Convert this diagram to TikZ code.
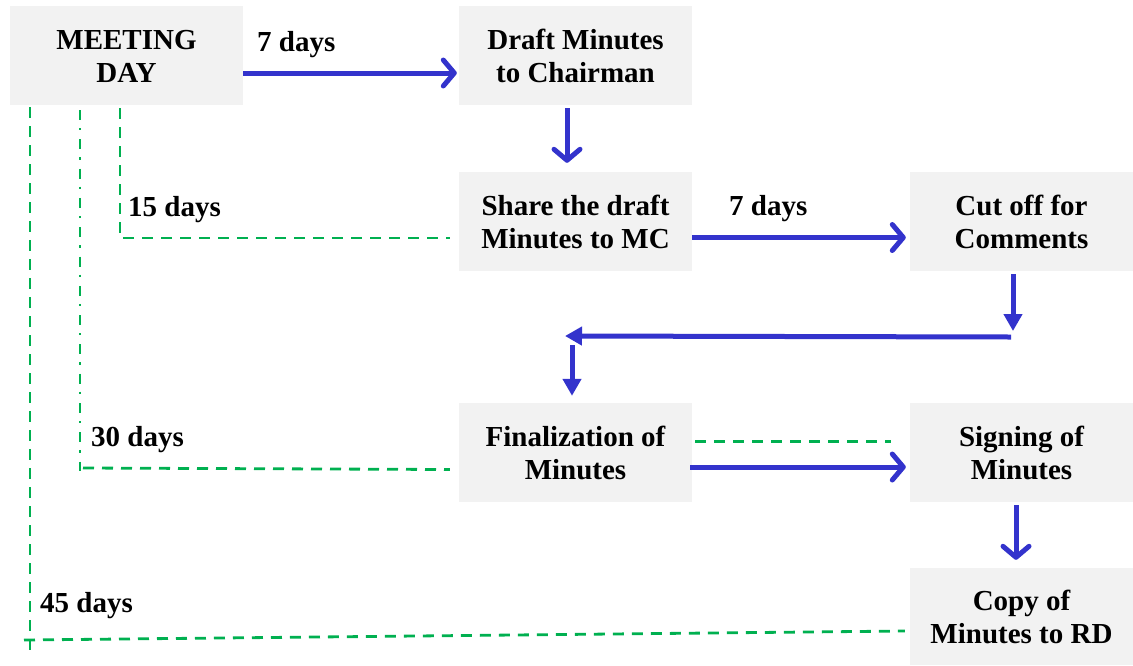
\documentclass[tikz,border=0pt]{standalone}
\usepackage{fontspec}
\setmainfont{Liberation Serif}
\usetikzlibrary{arrows.meta,calc}
\definecolor{boxgray}{HTML}{F2F2F2}
\definecolor{arrowblue}{HTML}{3333CC}
\definecolor{linegreen}{HTML}{00B050}
\newcommand{\firstline}{\rule{0pt}{22pt}}
\begin{document}
\begin{tikzpicture}[x=1pt,y=-1pt,
  box/.style={fill=boxgray, draw=none, minimum width=233pt, minimum height=99pt,
    inner sep=0pt, align=center, font=\bfseries\fontsize{29}{33}\selectfont},
  lbl/.style={anchor=base west, inner sep=0pt, font=\bfseries\fontsize{29}{33}\selectfont},
  bluearrow/.style={draw=arrowblue, line width=5pt},
  openarrow/.style={bluearrow, -{Straight Barb[length=11pt,width=26pt,line cap=round,line join=round]}},
  fillarrow/.style={bluearrow, -{Triangle[length=17pt,width=18pt]}},
  greendash/.style={draw=linegreen, line width=2.8pt, dash pattern=on 11pt off 8pt},
  greendashdot/.style={draw=linegreen, line width=2.8pt, dash pattern=on 10pt off 8pt on 2.3pt off 9pt}]
\useasboundingbox (0,0) rectangle (1133,665);

% boxes
\node[box] (meet) at (126.5,55.5) {\firstline MEETING\\DAY};
\node[box] (draft) at (575.5,55.5) {\firstline Draft Minutes\\to Chairman};
\node[box] (share) at (575.5,221.5) {\firstline Share the draft\\Minutes to MC};
\node[box, minimum width=223pt] (cut) at (1021.5,221.5) {\firstline Cut off for\\Comments};
\node[box] (final) at (575.5,452.5) {\firstline Finalization of\\Minutes};
\node[box, minimum width=223pt] (sign) at (1021.5,452.5) {\firstline Signing of\\Minutes};
\node[box, minimum width=223pt, minimum height=97pt] (copy) at (1021.5,616.5) {\firstline Copy of\\Minutes to RD};

% labels
\node[lbl] (l7a) at (257,51) {7 days};
\node[lbl] (l15) at (128,216) {15 days};
\node[lbl] (l7b) at (729,215) {7 days};
\node[lbl] (l30) at (91,446) {30 days};
\node[lbl] (l45) at (40,612) {45 days};

% blue arrows
\draw[openarrow, shorten >=2pt] ([yshift=-17.5pt]meet.east) -- ([yshift=-17.5pt]draft.west);
\draw[openarrow, shorten <=3pt, shorten >=9pt] ([xshift=-8.5pt]draft.south) -- ([xshift=-8.5pt]share.north);
\draw[openarrow, shorten >=4pt] ([yshift=-16pt]share.east) -- ([yshift=-16pt]cut.west);
\coordinate (downtip) at (1013,331);
\coordinate (backstart) at (1011,337);
\coordinate (backtip) at (565,336);
\coordinate (dropstart) at (572,345);
\draw[fillarrow, shorten <=3pt] ([xshift=-8.5pt]cut.south) -- (downtip);
\draw[fillarrow] (backstart) -- (backtip);
\draw[fillarrow, shorten >=7pt] (dropstart) -- ([xshift=-3.5pt]final.north);
\draw[openarrow, shorten <=-2pt, shorten >=4pt] ([yshift=-14.5pt]final.east) -- ([yshift=-14.5pt]sign.west);
\draw[openarrow, shorten <=3pt, shorten >=8pt] ([xshift=-5.5pt]sign.south) -- ([xshift=-5.5pt]copy.north);

% green timing lines
\coordinate (g15) at (120,108);
\draw[greendash] (g15) |- ([xshift=-9pt,yshift=-16.5pt]share.west);
\coordinate (g30top) at (80,110);
\coordinate (g30bot) at (80,471);
\coordinate (g30h) at (83,468);
\draw[greendashdot] (g30top) -- (g30bot);
\draw[greendash] (g30h) -- ([xshift=-9pt,yshift=-17pt]final.west);
\coordinate (g45top) at (30,107);
\coordinate (g45bot) at (30,650);
\coordinate (g45h) at (24,640);
\draw[greendash] (g45top) -- (g45bot);
\draw[greendash] (g45h) -- ([xshift=-5pt,yshift=-14.5pt]copy.west);
\draw[greendash] ([xshift=3pt,yshift=11pt]final.east) -- ([xshift=-19pt,yshift=11pt]sign.west);
\end{tikzpicture}
\end{document}
